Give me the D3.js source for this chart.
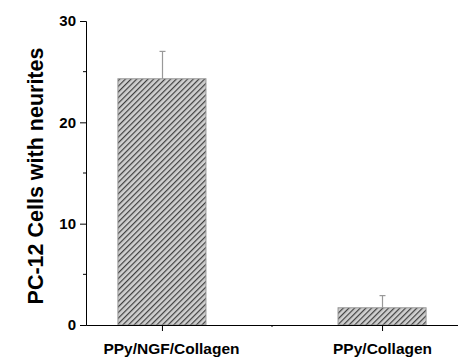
<!DOCTYPE html>
<html>
<head>
<meta charset="utf-8">
<script src="https://cdn.jsdelivr.net/npm/d3@7"></script>
<style>
  body { margin: 0; background: #fff; }
  svg { font-family: Arial, "Liberation Sans", sans-serif; }
</style>
</head>
<body>
<svg id="chart" width="458" height="359"></svg>
<script>
// data
const categories = ['PPy/NGF/Collagen', 'PPy/Collagen'];
const means = [24.3, 1.7];
const errors = [2.7, 1.2];
const yTicks = [0, 10, 20, 30];
const yMinorTicks = [5, 15, 25];

const svg = d3.select('#chart');
const plotLeft = 86, plotRight = 458, plotTop = 21, plotBottom = 325;

const y = d3.scaleLinear().domain([0, 30]).range([plotBottom, plotTop]);
const x = d3.scalePoint().domain(categories).range([plotLeft, plotRight]).padding(0.345);
const barW = x.step() * 0.4;

// hatch pattern
const defs = svg.append('defs');
const pat = defs.append('pattern')
    .attr('id', 'hatch')
    .attr('patternUnits', 'userSpaceOnUse')
    .attr('width', 4).attr('height', 4)
    .attr('patternTransform', 'rotate(45)');
pat.append('rect').attr('width', 4).attr('height', 4).attr('fill', '#d0d0d0');
pat.append('rect').attr('x', 0).attr('width', 1.2).attr('height', 4).attr('fill', '#404040');

// bars
svg.selectAll('.bar')
    .data(categories)
    .join('rect')
    .attr('class', 'bar')
    .attr('x', d => x(d) - barW / 2)
    .attr('y', (d, i) => y(means[i]))
    .attr('width', barW)
    .attr('height', (d, i) => y(0) - y(means[i]))
    .attr('fill', 'url(#hatch)')
    .attr('stroke', '#999')
    .attr('stroke-width', 1);

// error bars (upper only)
const err = svg.append('g').attr('stroke', '#999').attr('stroke-width', 1.2);
categories.forEach((c, i) => {
    const cx = Math.round(x(c)) + 0.5;
    err.append('line')
        .attr('x1', cx).attr('x2', cx)
        .attr('y1', y(means[i])).attr('y2', y(means[i] + errors[i]));
    err.append('line')
        .attr('x1', cx - 3).attr('x2', cx + 3)
        .attr('y1', y(means[i] + errors[i])).attr('y2', y(means[i] + errors[i]));
});

// y axis
const yAxis = svg.append('g')
    .attr('transform', `translate(${plotLeft},0)`)
    .call(d3.axisLeft(y).tickValues(yTicks).tickSize(6).tickPadding(4));
yAxis.select('.domain').attr('stroke', '#000');
yAxis.selectAll('.tick line').attr('stroke', '#000');
yAxis.selectAll('.tick text')
    .attr('font-size', 15).attr('font-weight', 'bold').attr('fill', '#000');
yAxis.selectAll('.minor')
    .data(yMinorTicks)
    .join('line')
    .attr('class', 'minor')
    .attr('x1', -3).attr('x2', 0)
    .attr('y1', d => y(d)).attr('y2', d => y(d))
    .attr('stroke', '#000');

// x axis
const xAxis = svg.append('g')
    .attr('transform', `translate(0,${plotBottom})`)
    .call(d3.axisBottom(x).tickSize(6).tickPadding(12).tickSizeOuter(0));
xAxis.select('.domain').attr('stroke', '#000');
xAxis.selectAll('.tick line').attr('stroke', '#000');
xAxis.selectAll('.tick text')
    .attr('font-size', 15.5).attr('font-weight', 'bold').attr('fill', '#000')
    .attr('dx', (d, i) => i === 0 ? 9 : 0);
xAxis.append('line')
    .attr('x1', (x(categories[0]) + x(categories[1])) / 2)
    .attr('x2', (x(categories[0]) + x(categories[1])) / 2)
    .attr('y1', 0).attr('y2', 2)
    .attr('stroke', '#000');

// y title
svg.append('text')
    .attr('transform', `translate(43,${(plotTop + plotBottom) / 2 + 3}) rotate(-90)`)
    .attr('text-anchor', 'middle')
    .attr('font-size', 21.5)
    .attr('font-weight', 'bold')
    .text('PC-12 Cells with neurites');
</script>
</body>
</html>
